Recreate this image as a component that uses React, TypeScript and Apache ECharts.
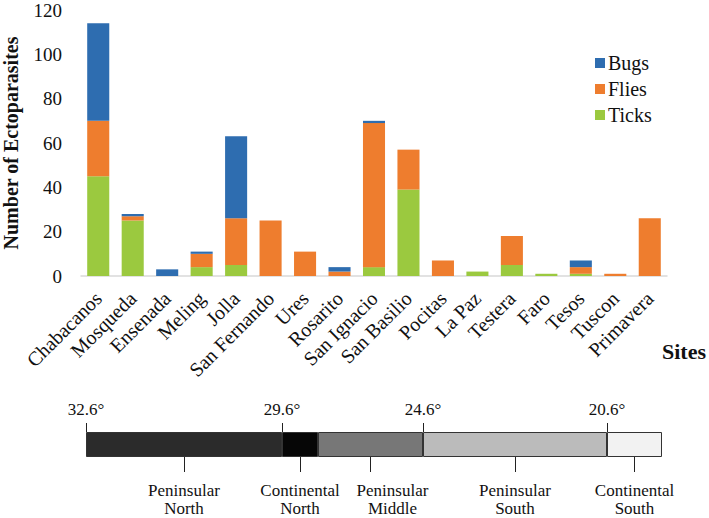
import React, { useEffect, useRef } from "react";
import * as echarts from "echarts";

const sites = ["Chabacanos", "Mosqueda", "Ensenada", "Meling", "Jolla", "San Fernando", "Ures", "Rosarito", "San Ignacio", "San Basilio", "Pocitas", "La Paz", "Testera", "Faro", "Tesos", "Tuscon", "Primavera"];
const ticks = [45, 25, 0, 4, 5, 0, 0, 0, 4, 39, 0, 2, 5, 1, 1, 0, 0];
const flies = [25, 2, 0, 6, 21, 25, 11, 2, 65, 18, 7, 0, 13, 0, 3, 1, 26];
const bugs = [44, 1, 3, 1, 37, 0, 0, 2, 1, 0, 0, 0, 0, 0, 3, 0, 0];
const yTicks = [0, 20, 40, 60, 80, 100, 120];

const regionNames = ["Peninsular\nNorth", "Continental\nNorth", "Peninsular\nMiddle", "Peninsular\nSouth", "Continental\nSouth"];
const regionWidths = [196, 36, 105, 184, 55];
const regionColors = ["#2b2b2b", "#060606", "#777777", "#bbbbbb", "#f2f2f2"];
const latLabels = ["32.6°", "29.6°", "24.6°", "20.6°"];
const latBoundaryIndex = [0, 1, 3, 4];

const FONT = "Liberation Serif";

export default function App() {
  const ref = useRef<HTMLDivElement>(null);
  useEffect(() => {
    if (!ref.current) return;
    const chart = echarts.init(ref.current, null, { renderer: "svg" });

    const cum: number[] = [0];
    regionWidths.forEach((w, i) => cum.push(cum[i] + w));
    const total = cum[cum.length - 1];
    const boundaryVals = latBoundaryIndex.map((i) => cum[i]);
    const centerVals = regionWidths.map((w, i) => cum[i] + w / 2);

    const barSeries = [
      { name: "Ticks", data: ticks, color: "#9bc93f" },
      { name: "Flies", data: flies, color: "#ee7d2e" },
      { name: "Bugs", data: bugs, color: "#2e6db0" },
    ].map((s) => ({
      type: "bar",
      name: s.name,
      data: s.data,
      stack: "total",
      xAxisIndex: 0,
      yAxisIndex: 0,
      barCategoryGap: "36%",
      itemStyle: { color: s.color },
    }));

    const regionSeries = regionWidths.map((w, i) => ({
      type: "bar",
      name: regionNames[i],
      data: [w],
      stack: "lat",
      xAxisIndex: 1,
      yAxisIndex: 1,
      barWidth: "100%",
      itemStyle: { color: regionColors[i], borderColor: "#333", borderWidth: 1 },
    }));

    chart.setOption({
      animation: false,
      backgroundColor: "#ffffff",
      textStyle: { fontFamily: FONT },
      legend: {
        data: ["Bugs", "Flies", "Ticks"],
        orient: "vertical",
        left: 590,
        top: 48,
        itemWidth: 10,
        itemHeight: 10,
        itemGap: 6,
        icon: "rect",
        textStyle: { fontFamily: FONT, fontSize: 20, color: "#111", padding: [0, 0, 0, -2] },
      },
      grid: [
        { left: 81, top: 10, width: 586, height: 266, outerBoundsMode: "none", containLabel: false },
        { left: 86, top: 432, width: total, height: 25, outerBoundsMode: "none", containLabel: false },
      ],
      xAxis: [
        {
          type: "category",
          gridIndex: 0,
          data: sites,
          axisLine: { lineStyle: { color: "#d9d9d9", width: 1.5 } },
          axisTick: { show: false },
          axisLabel: {
            rotate: 45,
            interval: 0,
            margin: 19,
            fontFamily: FONT,
            fontSize: 20,
            color: "#111",
          },
        },
        {
          type: "value",
          gridIndex: 1,
          position: "top",
          min: 0,
          max: total,
          splitLine: { show: false },
          axisLine: { show: false },
          axisTick: { show: true, customValues: boundaryVals, length: 9, lineStyle: { color: "#222", width: 1 } },
          axisLabel: {
            customValues: boundaryVals,
            formatter: (v: number) => {
              const k = boundaryVals.indexOf(v);
              return k >= 0 ? latLabels[k] : "";
            },
            margin: 14,
            fontFamily: FONT,
            fontSize: 17,
            color: "#111",
          },
        },
        {
          type: "value",
          gridIndex: 1,
          position: "bottom",
          min: 0,
          max: total,
          splitLine: { show: false },
          axisLine: { show: false },
          axisTick: { show: true, customValues: centerVals, length: 15, lineStyle: { color: "#222", width: 1 } },
          axisLabel: {
            customValues: centerVals,
            formatter: (v: number) => {
              const k = centerVals.indexOf(v);
              if (k < 0) return "";
              const lines = regionNames[k].split("\n");
              const tag = k === 2 ? "s" : "n";
              return lines.map((l) => `{${tag}|${l}}`).join("\n");
            },
            margin: 24,
            lineHeight: 18,
            fontFamily: FONT,
            fontSize: 17,
            color: "#111",
            rich: {
              n: { fontFamily: FONT, fontSize: 17, lineHeight: 18, color: "#111" },
              s: { fontFamily: FONT, fontSize: 17, lineHeight: 18, color: "#111", padding: [0, 0, 0, 44] },
            },
          },
        },
      ],
      yAxis: [
        {
          type: "value",
          gridIndex: 0,
          min: yTicks[0],
          max: yTicks[yTicks.length - 1],
          interval: 20,
          name: "Number of Ectoparasites",
          nameLocation: "middle",
          nameRotate: 90,
          nameGap: 60,
          nameTextStyle: { fontFamily: FONT, fontSize: 20, fontWeight: "bold", color: "#111" },
          axisLine: { show: false },
          axisTick: { show: false },
          splitLine: { show: false },
          axisLabel: { fontFamily: FONT, fontSize: 19, color: "#111", margin: 19 },
        },
        {
          type: "category",
          gridIndex: 1,
          data: ["lat"],
          show: false,
        },
      ],
      graphic: [
        {
          type: "text",
          left: 662,
          top: 340,
          style: { text: "Sites", fontFamily: FONT, fontSize: 22, fontWeight: "bold", fill: "#111" },
        },
      ],
      series: [...barSeries, ...regionSeries],
    });
    return () => chart.dispose();
  }, []);
  return <div ref={ref} style={{ position: "fixed", left: 0, top: 0, width: 709, height: 518 }} />;
}
